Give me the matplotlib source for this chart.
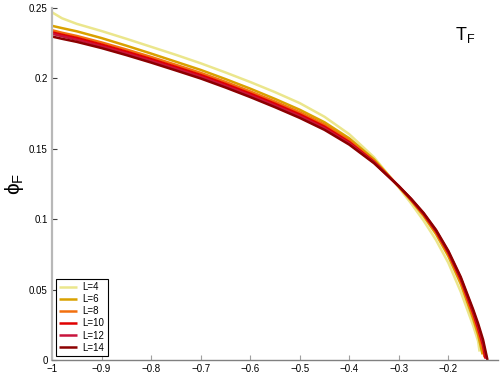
import numpy as np
import matplotlib
matplotlib.use("Agg")
import matplotlib.pyplot as plt

plt.rcParams['font.family'] = ['Liberation Sans', 'DejaVu Sans']
plt.rcParams['mathtext.fontset'] = 'custom'
plt.rcParams['mathtext.rm'] = 'Liberation Sans'

# common x grid, each series then has its own tail to the end point
x_grid = [-1.0, -0.98, -0.95, -0.9, -0.85, -0.8, -0.75, -0.7, -0.65, -0.6, -0.55,
          -0.5, -0.45, -0.4, -0.35, -0.3, -0.275, -0.25, -0.225, -0.2, -0.175, -0.15]

phi_L4 = [0.2470, 0.2428, 0.2388, 0.2337, 0.2282, 0.2225, 0.2168, 0.2108, 0.2043, 0.1975, 0.1903,
          0.1825, 0.1728, 0.1604, 0.1440, 0.1225, 0.1112, 0.0990, 0.0853, 0.0690, 0.0485, 0.0245]
phi_L6 = [0.2374, 0.2358, 0.2335, 0.2287, 0.2233, 0.2177, 0.2119, 0.2061, 0.1996, 0.1928, 0.1855,
          0.1778, 0.1689, 0.1575, 0.1425, 0.1231, 0.1132, 0.1023, 0.0895, 0.0737, 0.0540, 0.0292]
phi_L8 = [0.2343, 0.2325, 0.2302, 0.2256, 0.2206, 0.2153, 0.2097, 0.2040, 0.1976, 0.1908, 0.1836,
          0.1760, 0.1672, 0.1560, 0.1414, 0.1233, 0.1137, 0.1032, 0.0908, 0.0753, 0.0560, 0.0315]
phi_L10 = [0.2328, 0.2311, 0.2288, 0.2241, 0.2191, 0.2138, 0.2082, 0.2025, 0.1961, 0.1893, 0.1821,
           0.1745, 0.1658, 0.1548, 0.1408, 0.1234, 0.1140, 0.1037, 0.0915, 0.0762, 0.0573, 0.0335]
phi_L12 = [0.2318, 0.2300, 0.2275, 0.2228, 0.2178, 0.2125, 0.2069, 0.2012, 0.1948, 0.1880, 0.1808,
           0.1732, 0.1646, 0.1539, 0.1403, 0.1235, 0.1143, 0.1041, 0.0920, 0.0769, 0.0582, 0.0348]
phi_L14 = [0.2298, 0.2282, 0.2260, 0.2216, 0.2166, 0.2113, 0.2057, 0.2000, 0.1936, 0.1868, 0.1796,
           0.1720, 0.1635, 0.1530, 0.1398, 0.1235, 0.1145, 0.1045, 0.0925, 0.0775, 0.0590, 0.0360]

tail_x = {4: [-0.14, -0.137], 6: [-0.14, -0.131], 8: [-0.14, -0.13, -0.127],
          10: [-0.14, -0.13, -0.125], 12: [-0.14, -0.13, -0.123], 14: [-0.14, -0.13, -0.121]}
tail_y = {4: [0.0135, 0.006], 6: [0.018, 0.004], 8: [0.0205, 0.0075, 0.002],
          10: [0.0225, 0.0105, 0.001], 12: [0.0245, 0.0125, 0.001], 14: [0.026, 0.0145, 0.0]}

sizes = [4, 6, 8, 10, 12, 14]
series = [phi_L4, phi_L6, phi_L8, phi_L10, phi_L12, phi_L14]
colors = ['#ebe68c', '#d9a100', '#f2700f', '#e00000', '#c8143c', '#8c0000']

fig = plt.figure(figsize=(5.01, 3.78), dpi=100)
ax = fig.add_axes([0.1038, 0.0476, 0.890, 0.931])

for L, ys, c in zip(sizes, series, colors):
    xs = x_grid + tail_x[L]
    yy = ys + tail_y[L]
    ax.plot(xs, yy, color=c, lw=1.8, label='L=%d' % L, solid_capstyle='butt')

ax.set_xlim(-1, -0.1)
ax.set_ylim(0, 0.25)
ax.set_xticks([-1, -0.9, -0.8, -0.7, -0.6, -0.5, -0.4, -0.3, -0.2])
ax.set_xticklabels(['\u22121', '\u22120.9', '\u22120.8', '\u22120.7', '\u22120.6',
                    '\u22120.5', '\u22120.4', '\u22120.3', '\u22120.2'])
ax.set_yticks([0, 0.05, 0.1, 0.15, 0.2, 0.25])
ax.set_yticklabels(['0', '0.05', '0.1', '0.15', '0.2', '0.25'])

ax.spines['top'].set_visible(False)
ax.spines['right'].set_visible(False)
ax.spines['left'].set_color('#b8b8b8')
ax.spines['left'].set_linewidth(1.6)
ax.spines['bottom'].set_color('#808080')
ax.spines['bottom'].set_linewidth(1.0)
ax.tick_params(axis='both', direction='in', length=3.5, labelsize=7)
ax.tick_params(axis='x', color='#a0a0a0', pad=3)
ax.tick_params(axis='y', color='#404040', width=0.8, pad=3)

ax.set_ylabel('$\\mathregular{\u03d5_F}$', fontsize=15, labelpad=2)
ax.text(0.904, 0.909, '$\\mathregular{T_F}$', transform=ax.transAxes, fontsize=13)

leg = ax.legend(loc='lower left', fontsize=7, frameon=True, fancybox=False,
                edgecolor='black', framealpha=1, borderpad=0.35, labelspacing=0.22,
                handlelength=1.8, handletextpad=0.6, borderaxespad=0.4)
leg.get_frame().set_linewidth(0.8)

fig.savefig('out.png', dpi=100)
